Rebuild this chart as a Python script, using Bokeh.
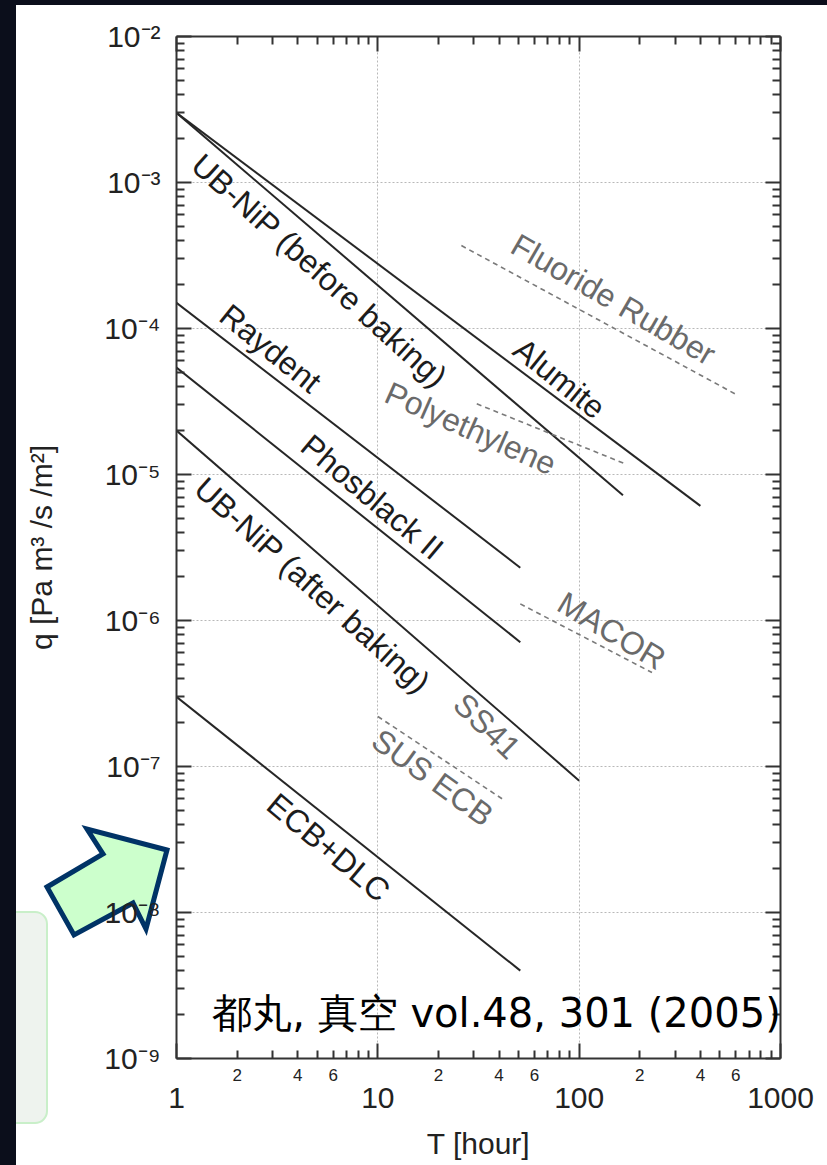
import math
from urllib.parse import quote
from bokeh.plotting import figure
from bokeh.models import (ColumnDataSource, FixedTicker, LogAxis, LabelSet, Label,
                          CustomJSTickFormatter)
from bokeh.core.properties import value
from bokeh.embed import file_html
from bokeh.resources import INLINE

# ---------------------------------------------------------------- data
# Outgassing rate q [Pa m3/s/m2] versus pumping time T [hour];
# every material is a straight line on log-log axes (start -> end point).
solid_names = ["UB-NiP (before baking)", "Alumite", "Raydent", "Phosblack II",
               "UB-NiP (after baking)", "ECB+DLC"]
solid_t0 = [1, 1, 1, 1, 1, 1]
solid_q0 = [3.0e-3, 3.0e-3, 1.5e-4, 5.4e-5, 2.0e-5, 3.0e-7]
solid_t1 = [165, 400, 51, 51, 100, 51]
solid_q1 = [7.2e-6, 6.1e-6, 2.3e-6, 7.1e-7, 8.0e-8, 4.0e-9]

dashed_names = ["Fluoride Rubber", "Polyethylene", "MACOR", "SUS ECB"]
dashed_t0 = [26, 31, 51, 10]
dashed_q0 = [3.7e-4, 3.05e-5, 1.3e-6, 2.2e-7]
dashed_t1 = [610, 170, 230, 41.5]
dashed_q1 = [3.5e-5, 1.18e-5, 4.4e-7, 6.0e-8]

x_decades = [1, 10, 100, 1000]
x_decade_labels = ["1", "10", "100", "1000"]
x_minor_values = [2, 4, 6, 20, 40, 60, 200, 400, 600]
x_minor_labels = ["2", "4", "6", "2", "4", "6", "2", "4", "6"]
y_decades = [1e-2, 1e-3, 1e-4, 1e-5, 1e-6, 1e-7, 1e-8, 1e-9]
y_decade_labels = ["10⁻²", "10⁻³", "10⁻⁴", "10⁻⁵", "10⁻⁶", "10⁻⁷", "10⁻⁸", "10⁻⁹"]

citation = "都丸, 真空 vol.48, 301 (2005)"

# ---------------------------------------------------------------- layout
PAGE_W, PAGE_H = 827, 1165
FRAME_L, FRAME_T, FRAME_W, FRAME_H = 176, 36, 604, 1022
X_LOG0, X_LOG1 = 0.0, 3.0
Y_LOG0, Y_LOG1 = -9.0, -2.0


def sx_to_t(sx):
    """screen x (px) -> data T on the log axis"""
    return 10 ** (X_LOG0 + (X_LOG1 - X_LOG0) * (sx - FRAME_L) / FRAME_W)


def sy_to_q(sy):
    """screen y (px) -> data q on the log axis"""
    return 10 ** (Y_LOG1 - (Y_LOG1 - Y_LOG0) * (sy - FRAME_T) / FRAME_H)


# curve captions: anchor (T, q), clockwise rotation in degrees, colour
captions = {
    "text": ["UB-NiP (before baking)", "Alumite", "Raydent", "Phosblack II",
             "UB-NiP (after baking)", "ECB+DLC", "Fluoride Rubber",
             "Polyethylene", "MACOR", "SS41", "SUS ECB"],
    "t": [5.13, 79.8, 2.93, 9.38, 4.74, 5.69, 148, 28.9, 145, 34.9, 18.7],
    "q": [2.49e-4, 4.55e-5, 7.3e-5, 7.0e-6, 1.74e-6, 2.79e-8, 1.58e-4,
          2.07e-5, 8.5e-7, 1.89e-7, 8.4e-8],
    "deg": [42, 39, 39, 40, 42, 40, 30, 24, 31, 44, 36],
    "color": ["#1c1c1c"] * 6 + ["#6a6a6a"] * 5,
}
captions["angle"] = [-math.radians(d) for d in captions["deg"]]

FONT = "Liberation Sans"
AXIS_COLOR = "#333333"
TEXT_COLOR = "#222222"

x_minor_ticks = [k * 10 ** e for e in range(0, 3) for k in range(2, 10)]
y_minor_ticks = [k * 10 ** e for e in range(-9, -2) for k in range(2, 10)]

p = figure(x_axis_type="log", y_axis_type="log",
           x_range=(1, 1000), y_range=(1e-9, 1e-2),
           frame_width=FRAME_W, frame_height=FRAME_H,
           min_border_left=FRAME_L, min_border_top=FRAME_T,
           min_border_right=PAGE_W - FRAME_L - FRAME_W,
           min_border_bottom=PAGE_H - FRAME_T - FRAME_H,
           output_backend="svg", toolbar_location=None)
p.background_fill_color = "white"
p.border_fill_color = None
p.outline_line_color = None


def tick_labels(positions, texts):
    """formatter that looks each tick up in a label list"""
    return CustomJSTickFormatter(
        args=dict(positions=positions, texts=texts),
        code="""
        for (let i = 0; i < positions.length; i++) {
            if (Math.abs(Math.log10(positions[i]) - Math.log10(tick)) < 1e-6)
                return texts[i];
        }
        return "";
        """)


BLANK = CustomJSTickFormatter(code="return ''")


def tick_axis(ax, ticks, minor):
    """frame edge axis: long inward decade ticks, short inward minor ticks"""
    ax.ticker = FixedTicker(ticks=ticks, minor_ticks=minor)
    ax.axis_line_color = AXIS_COLOR
    ax.axis_line_width = 2
    ax.major_tick_line_color = AXIS_COLOR
    ax.major_tick_line_width = 2
    ax.minor_tick_line_color = AXIS_COLOR
    ax.minor_tick_line_width = 2
    ax.major_tick_in = 15
    ax.major_tick_out = 0
    ax.minor_tick_in = 8
    ax.minor_tick_out = 0


def label_axis(ax, ticks, labels, size, standoff):
    """axis that only carries tick labels"""
    ax.ticker = FixedTicker(ticks=ticks, minor_ticks=[])
    ax.formatter = tick_labels(ticks, labels)
    ax.axis_line_color = None
    ax.major_tick_line_color = None
    ax.minor_tick_line_color = None
    ax.major_tick_in = 0
    ax.major_tick_out = 0
    ax.minor_tick_in = 0
    ax.minor_tick_out = 0
    ax.major_label_text_font = FONT
    ax.major_label_text_font_size = size
    ax.major_label_text_color = TEXT_COLOR
    ax.major_label_standoff = standoff


# bottom: tick axis, then "2 4 6" labels, then decade labels + title
xax = p.xaxis[0]
tick_axis(xax, x_decades, x_minor_ticks)
xax.formatter = BLANK
xax.major_label_text_font_size = "1px"
xax.major_label_standoff = 0

x_mid = LogAxis()
label_axis(x_mid, x_minor_values, x_minor_labels, "17px", 10)
p.add_layout(x_mid, "below")

x_low = LogAxis()
label_axis(x_low, x_decades, x_decade_labels, "30px", 4)
x_low.axis_label = "T [hour]"
x_low.axis_label_text_font = FONT
x_low.axis_label_text_font_style = "normal"
x_low.axis_label_text_font_size = "30px"
x_low.axis_label_text_color = TEXT_COLOR
x_low.axis_label_standoff = 16
p.add_layout(x_low, "below")

# left: ticks plus "10^n" labels and the quantity title
yax = p.yaxis[0]
tick_axis(yax, y_decades, y_minor_ticks)
yax.formatter = tick_labels(y_decades, y_decade_labels)
yax.major_label_text_font = FONT
yax.major_label_text_font_size = "30px"
yax.major_label_text_color = TEXT_COLOR
yax.major_label_standoff = 16
yax.axis_label = "q [Pa m³ /s /m²]"
yax.axis_label_text_font = FONT
yax.axis_label_text_font_style = "normal"
yax.axis_label_text_font_size = "30px"
yax.axis_label_text_color = TEXT_COLOR
yax.axis_label_standoff = 43

# mirrored ticks on top and right
top_ax = LogAxis(formatter=BLANK, major_label_text_font_size="1px",
                 major_label_standoff=0)
tick_axis(top_ax, x_decades, x_minor_ticks)
p.add_layout(top_ax, "above")
right_ax = LogAxis(formatter=BLANK, major_label_text_font_size="1px",
                   major_label_standoff=0)
tick_axis(right_ax, y_decades, y_minor_ticks)
p.add_layout(right_ax, "right")

p.xgrid.ticker = FixedTicker(ticks=x_decades)
p.ygrid.ticker = FixedTicker(ticks=y_decades)
for g in (p.xgrid, p.ygrid):
    g.grid_line_color = "#b8b8b8"
    g.grid_line_width = 1
    g.grid_line_dash = "2 2"

# material lines
solid_src = ColumnDataSource(dict(name=solid_names, t0=solid_t0, q0=solid_q0,
                                  t1=solid_t1, q1=solid_q1))
p.segment(x0="t0", y0="q0", x1="t1", y1="q1", source=solid_src,
          line_color="#262626", line_width=2)
dashed_src = ColumnDataSource(dict(name=dashed_names, t0=dashed_t0, q0=dashed_q0,
                                   t1=dashed_t1, q1=dashed_q1))
p.segment(x0="t0", y0="q0", x1="t1", y1="q1", source=dashed_src,
          line_color="#7a7a7a", line_width=1.6, line_dash="5 4")

cap_src = ColumnDataSource(captions)
p.add_layout(LabelSet(x="t", y="q", text="text", angle="angle", source=cap_src,
                      text_color="color", text_font=value(FONT),
                      text_font_size="32px", text_align="center",
                      text_baseline="middle"))

# reference
p.add_layout(Label(x=sx_to_t(496), y=sy_to_q(1012), text=citation,
                   text_font="DejaVu Sans",
                   text_font_size="40px", text_color="black",
                   text_align="center", text_baseline="middle"))

# slide surroundings behind the transparent border: dark edges,
# side panel and the pointer arrow
DARK = "#0b0e1b"
arrow_px = [(167, 850), (87, 829), (103, 854), (47, 887), (74, 935),
            (133, 903), (146, 929)]
backdrop = (
    f'<svg xmlns="http://www.w3.org/2000/svg" width="{PAGE_W}" height="{PAGE_H}">'
    f'<rect width="{PAGE_W}" height="{PAGE_H}" fill="white"/>'
    '<rect x="-20" y="912" width="67" height="211" rx="12" ry="12" '
    'fill="#eef3ee" stroke="#c9efc9" stroke-width="2"/>'
    f'<rect x="0" y="0" width="16" height="{PAGE_H}" fill="{DARK}"/>'
    f'<rect x="0" y="0" width="{PAGE_W}" height="5" fill="{DARK}"/>'
    '<polygon points="' + " ".join(f"{a},{b}" for a, b in arrow_px) + '" '
    'fill="#ccffcc" stroke="#003366" stroke-width="5" stroke-linejoin="miter"/>'
    '</svg>'
)
p.styles = {
    "background-image": f'url("data:image/svg+xml,{quote(backdrop)}")',
    "background-repeat": "no-repeat",
    "background-size": f"{PAGE_W}px {PAGE_H}px",
}

open("out.html", "w").write(file_html(p, INLINE))
